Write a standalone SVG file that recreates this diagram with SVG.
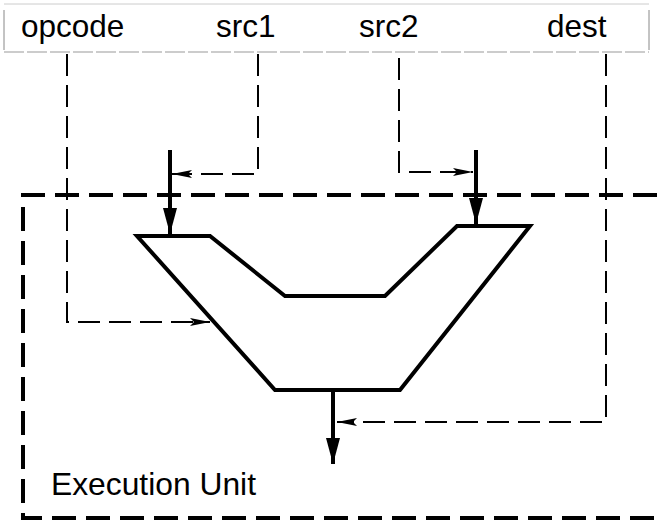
<svg xmlns="http://www.w3.org/2000/svg" width="657" height="522" viewBox="0 0 657 522">
<defs>
<style>
.lbl{font-family:"Liberation Sans",Arial,sans-serif;fill:#000}
.ctl{fill:none;stroke:#000;stroke-width:2;stroke-dasharray:22 9}
.bus{fill:none;stroke:#000;stroke-width:4}
.unit{fill:none;stroke:#000;stroke-width:4;stroke-dasharray:24 10}
</style>
<marker id="thin" viewBox="0 0 20 10" refX="20" refY="5" markerWidth="20" markerHeight="10" markerUnits="userSpaceOnUse" orient="auto">
<path d="M0,1 L20,5 L0,9 L4,5 Z" fill="#000"/>
</marker>
<marker id="thickd" viewBox="0 0 26 14" refX="26" refY="7" markerWidth="26" markerHeight="14" markerUnits="userSpaceOnUse" orient="auto">
<path d="M0,0 L26,7 L0,14 Z" fill="#000"/>
</marker>
</defs>
<rect width="657" height="522" fill="#fff"/>
<g id="instruction">
<path d="M4,4 H649" fill="none" stroke="#ccc" stroke-width="1"/>
<path d="M4,10 V50 M649,10 V50" fill="none" stroke="#888" stroke-width="1"/>
<path d="M4,52 H649" fill="none" stroke="#999" stroke-width="1" stroke-dasharray="20 3"/>
<text class="lbl" x="21" y="37" font-size="31.5">opcode</text>
<text class="lbl" x="216" y="37" font-size="31.5">src1</text>
<text class="lbl" x="359" y="37" font-size="31.5">src2</text>
<text class="lbl" x="547" y="37" font-size="31.5">dest</text>
</g>
<g id="execution-unit">
<path class="unit" d="M657,195 H23 V518 H657"/>
<text class="lbl" x="51" y="495" font-size="31.8">Execution Unit</text>
</g>
<g id="alu">
<polygon class="bus" points="137,236 210,236 285,296 385,296 457,226 530,226 400,390 275,390" stroke-linejoin="miter"/>
</g>
<g id="connectors">
<path class="ctl" d="M67,54 V322 H210" marker-end="url(#thin)"/>
<path class="ctl" d="M258,54 V174 H172" marker-end="url(#thin)"/>
<path class="ctl" d="M399,58 V172 H473" marker-end="url(#thin)"/>
<path class="ctl" d="M606,54 V422 H337" marker-end="url(#thin)"/>
<path class="bus" d="M170,150 V234" marker-end="url(#thickd)"/>
<path class="bus" d="M476,150 V224" marker-end="url(#thickd)"/>
<path class="bus" d="M333,390 V464" marker-end="url(#thickd)"/>
</g>
</svg>
